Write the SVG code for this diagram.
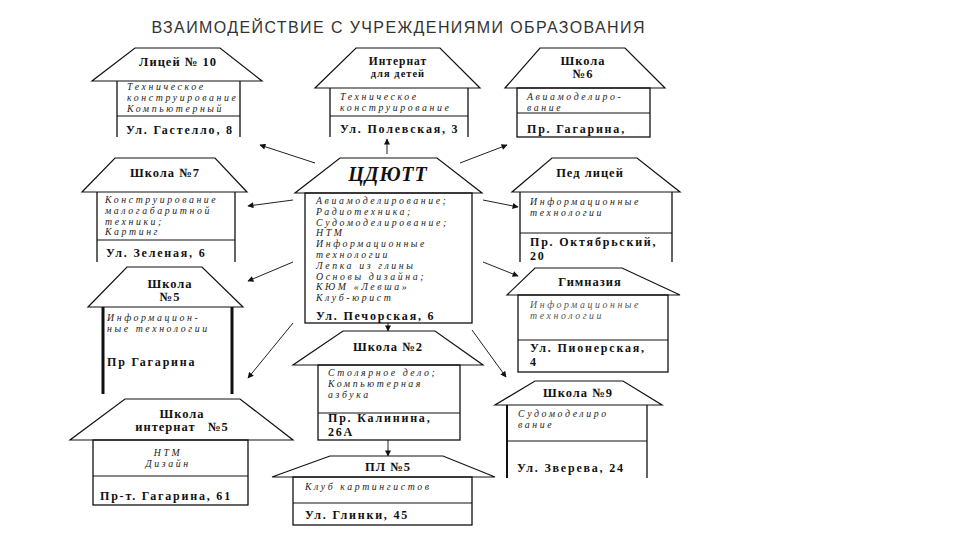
<svg xmlns="http://www.w3.org/2000/svg" width="960" height="540" viewBox="0 0 960 540">
<defs>
<marker id="ah" viewBox="0 0 10 10" refX="9" refY="5" markerWidth="7" markerHeight="6" markerUnits="userSpaceOnUse" orient="auto">
<path d="M0,0 L10,5 L0,10 z" fill="#111"/>
</marker>
<style>
.roof{fill:#fff;stroke:#111;stroke-width:1.2}
.ln{fill:none;stroke:#111;stroke-width:1.3}
.thick{fill:none;stroke:#111;stroke-width:3}
.div{stroke:#111;stroke-width:1}
.ttl{font-family:"Liberation Serif",serif;font-weight:bold;font-size:12.5px;fill:#111;text-anchor:middle;letter-spacing:1px}
.it{font-family:"Liberation Serif",serif;font-style:italic;font-size:9.8px;fill:#222;letter-spacing:2.6px}
.adr{font-family:"Liberation Serif",serif;font-weight:bold;font-size:12px;fill:#111;letter-spacing:1.8px}
.conn{stroke:#222;stroke-width:1;fill:none;marker-end:url(#ah)}
</style>
</defs>
<rect width="960" height="540" fill="#fff"/>
<text x="398" y="33" font-family="Liberation Sans,sans-serif" font-size="16" fill="#333" text-anchor="middle" textLength="493" lengthAdjust="spacing">ВЗАИМОДЕЙСТВИЕ С УЧРЕЖДЕНИЯМИ ОБРАЗОВАНИЯ</text>

<g id="connectors">
<line class="conn" x1="387" y1="154" x2="387" y2="139"/>
<line class="conn" x1="315" y1="163" x2="260" y2="145"/>
<line class="conn" x1="460" y1="163" x2="507" y2="145"/>
<line class="conn" x1="293" y1="200" x2="248" y2="206"/>
<line class="conn" x1="483" y1="200" x2="518" y2="207"/>
<line class="conn" x1="293" y1="262" x2="248" y2="281"/>
<line class="conn" x1="483" y1="262" x2="518" y2="276"/>
<line class="conn" x1="293" y1="323" x2="248" y2="378"/>
<line class="conn" x1="388" y1="323" x2="388" y2="331"/>
<line class="conn" x1="472" y1="330" x2="506" y2="377"/>
<line class="conn" x1="388" y1="440" x2="388" y2="456"/>
</g>

<g id="lyceum10">
<polygon class="roof" points="135,48 220,48 262,81 92,81"/>
<path class="ln" d="M117,81 V137 M240,81 V137"/>
<line class="div" x1="117" y1="116" x2="240" y2="116"/>
<text class="ttl" x="178" y="66">Лицей № 10</text>
<text class="it" x="127" y="90">Техническое</text>
<text class="it" x="127" y="100.8">конструирование</text>
<text class="it" x="127" y="111.6">Компьютерный</text>
<text class="adr" x="126" y="134">Ул. Гастелло, 8</text>
</g>

<g id="internat">
<polygon class="roof" points="356,48 440,48 480,88 315,88"/>
<path class="ln" d="M330,88 V137 M468,88 V137"/>
<line class="div" x1="330" y1="116" x2="468" y2="116"/>
<text class="ttl" x="398" y="65" style="font-size:11.5px">Интернат</text>
<text class="ttl" x="398" y="77" style="font-size:10.5px">для детей</text>
<text class="it" x="340" y="100">Техническое</text>
<text class="it" x="340" y="111">конструирование</text>
<text class="adr" x="340" y="133">Ул. Полевская, 3</text>
</g>

<g id="school6">
<polygon class="roof" points="540,48 625,48 665,88 505,88"/>
<rect class="ln" x="517" y="88" width="133" height="49"/>
<line class="div" x1="517" y1="113" x2="650" y2="113"/>
<text class="ttl" x="583" y="65">Школа</text>
<text class="ttl" x="583" y="78">№6</text>
<text class="it" x="527" y="100">Авиамоделиро-</text>
<text class="it" x="527" y="110.5">вание</text>
<text class="adr" x="527" y="133">Пр. Гагарина,</text>
</g>

<g id="cdutt">
<polygon class="roof" points="340,158 437,158 482,193 295,193"/>
<rect class="ln" x="305" y="193" width="167" height="130"/>
<text x="388" y="181" font-family="Liberation Serif,serif" font-weight="bold" font-style="italic" font-size="20" fill="#111" text-anchor="middle" letter-spacing="1">ЦДЮТТ</text>
<text class="it" x="316" y="204">Авиамоделирование;</text>
<text class="it" x="316" y="214.8">Радиотехника;</text>
<text class="it" x="316" y="225.6">Судомоделирование;</text>
<text class="it" x="316" y="236.4">НТМ</text>
<text class="it" x="316" y="247.2">Информационные</text>
<text class="it" x="316" y="258">технологии</text>
<text class="it" x="316" y="268.8">Лепка из глины</text>
<text class="it" x="316" y="279.6">Основы дизайна;</text>
<text class="it" x="316" y="290.4">КЮМ «Левша»</text>
<text class="it" x="316" y="301.2">Клуб-юрист</text>
<text class="adr" x="316" y="320">Ул. Печорская, 6</text>
</g>

<g id="school7">
<polygon class="roof" points="115,158 215,158 247,192 82,192"/>
<path class="ln" d="M97,192 V262 M235,192 V262"/>
<line class="div" x1="97" y1="240" x2="235" y2="240"/>
<text class="ttl" x="165" y="177">Школа №7</text>
<text class="it" x="105" y="203">Конструирование</text>
<text class="it" x="105" y="213.8">малогабаритной</text>
<text class="it" x="105" y="224.6">техники;</text>
<text class="it" x="105" y="235.4">Картинг</text>
<text class="adr" x="106" y="257">Ул. Зеленая, 6</text>
</g>

<g id="pedlyceum">
<polygon class="roof" points="552,158 637,158 680,192 512,192"/>
<path class="ln" d="M520,192 V262 M672,192 V262"/>
<line class="div" x1="520" y1="233" x2="672" y2="233"/>
<text class="ttl" x="590" y="177">Пед лицей</text>
<text class="it" x="530" y="205">Информационные</text>
<text class="it" x="530" y="216">технологии</text>
<text class="adr" x="530" y="245.5">Пр. Октябрьский,</text>
<text class="adr" x="530" y="259.5">20</text>
</g>

<g id="school5">
<polygon class="roof" points="127,267 202,267 243,307 88,307"/>
<path class="thick" d="M103,307 V394 M232,307 V394"/>
<text class="ttl" x="170" y="288">Школа</text>
<text class="ttl" x="170" y="301">№5</text>
<text class="it" x="107" y="321">Информацион-</text>
<text class="it" x="107" y="332">ные технологии</text>
<text class="adr" x="107" y="366">Пр Гагарина</text>
</g>

<g id="gymnasium">
<polygon class="roof" points="535,268 622,268 680,295 507,295"/>
<rect class="ln" x="518" y="295" width="150" height="77"/>
<line class="div" x1="518" y1="340" x2="668" y2="340"/>
<text class="ttl" x="590" y="286">Гимназия</text>
<text class="it" x="530" y="308" style="fill:#555">Информационные</text>
<text class="it" x="530" y="319" style="fill:#555">технологии</text>
<text class="adr" x="530" y="352">Ул. Пионерская,</text>
<text class="adr" x="530" y="366">4</text>
</g>

<g id="school2">
<polygon class="roof" points="343,331 435,331 483,365 293,365"/>
<rect class="ln" x="318" y="365" width="142" height="75"/>
<line class="div" x1="318" y1="413" x2="460" y2="413"/>
<text class="ttl" x="388" y="351">Школа №2</text>
<text class="it" x="328" y="376">Столярное дело;</text>
<text class="it" x="328" y="387">Компьютерная</text>
<text class="it" x="328" y="398">азбука</text>
<text class="adr" x="328" y="422">Пр. Калинина,</text>
<text class="adr" x="328" y="435.5">26А</text>
</g>

<g id="school9">
<polygon class="roof" points="535,381 623,381 662,405 495,405"/>
<path class="ln" d="M507,405 V478" style="stroke-width:2"/>
<path class="ln" d="M647,405 V478"/>
<line class="div" x1="507" y1="441" x2="647" y2="441"/>
<text class="ttl" x="578" y="397">Школа №9</text>
<text class="it" x="518" y="417">Судомоделиро</text>
<text class="it" x="518" y="428">вание</text>
<text class="adr" x="517" y="472">Ул. Зверева, 24</text>
</g>

<g id="internat5">
<polygon class="roof" points="125,399 240,399 293,440 70,440"/>
<rect class="ln" x="93" y="440" width="155" height="65"/>
<line class="div" x1="93" y1="476" x2="248" y2="476"/>
<text class="ttl" x="182" y="418">Школа</text>
<text class="ttl" x="182" y="431" xml:space="preserve">интернат   №5</text>
<text class="it" x="168" y="456" text-anchor="middle">НТМ</text>
<text class="it" x="168" y="467" text-anchor="middle">Дизайн</text>
<text class="adr" x="100" y="500">Пр-т. Гагарина, 61</text>
</g>

<g id="pl5">
<polygon class="roof" points="330,456 443,456 495,477 272,477"/>
<rect class="ln" x="293" y="477" width="179" height="48"/>
<line class="div" x1="293" y1="503" x2="472" y2="503"/>
<text class="ttl" x="388" y="471">ПЛ №5</text>
<text class="it" x="305" y="490">Клуб картингистов</text>
<text class="adr" x="305" y="519">Ул. Глинки, 45</text>
</g>
</svg>
